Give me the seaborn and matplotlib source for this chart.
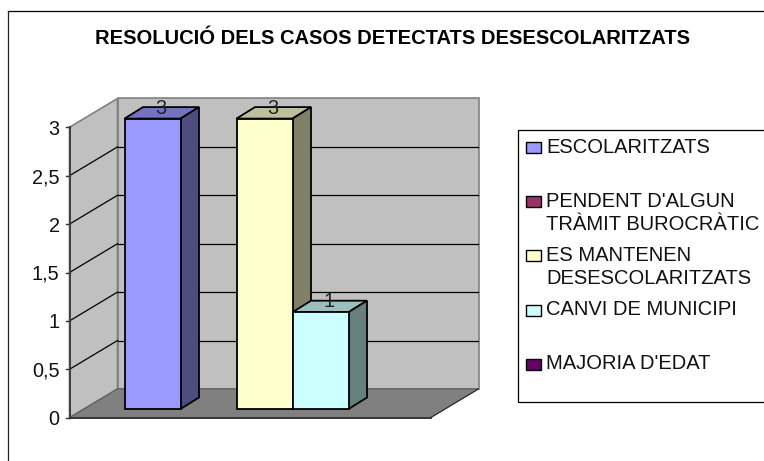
import matplotlib
matplotlib.use("Agg")
import matplotlib.pyplot as plt
from matplotlib.patches import Polygon, Rectangle
import pandas as pd
import seaborn as sns

# ---- data ----
title = "RESOLUCIÓ DELS CASOS DETECTATS DESESCOLARITZATS"
series = ["ESCOLARITZATS", "PENDENT D'ALGUN\nTRÀMIT BUROCRÀTIC",
          "ES MANTENEN\nDESESCOLARITZATS", "CANVI DE MUNICIPI", "MAJORIA D'EDAT"]
values = [3, 0, 3, 1, 0]
front_colors = ["#9999FF", "#993366", "#FFFFCC", "#CCFFFF", "#660066"]
top_colors = ["#7373BF", "#73264D", "#BFBF99", "#99BFBF", "#4D004D"]
side_colors = ["#4D4D80", "#4D1A33", "#808066", "#668080", "#330033"]
tick_values = [0, 0.5, 1, 1.5, 2, 2.5, 3]
tick_labels = ["0", "0,5", "1", "1,5", "2", "2,5", "3"]

# ---- layout in pixels ----
W, H = 764, 461
PX_PER_UNIT = 96.8
BAR_BASE_PY = 409.0
AXIS_PX, AXIS_PY = 69.5, 417.7     # front axis foot
WALL_DX, WALL_DY = 48.0, 28.8      # floor depth
FLOOR_W = 361.0
BAR_DX, BAR_DY = 18.5, 11.5        # bar depth
CENTER_PX = 264.5
CAT_W = 360.0

sns.set_theme(style="white")
plt.rcParams["font.family"] = ["Liberation Sans", "DejaVu Sans"]

fig = plt.figure(figsize=(W / 100, H / 100), dpi=100, facecolor="white")
ax = fig.add_axes([0, 0, 1, 1])

frame = pd.DataFrame({"cat": [""] * len(series), "serie": series, "valor": values})
sns.barplot(data=frame, x="cat", y="valor", hue="serie", hue_order=series,
            palette=front_colors, width=280 / CAT_W, gap=0, saturation=1,
            edgecolor="black", linewidth=1.3, legend=False, ax=ax, zorder=3)

ax.set_xlim(-CENTER_PX / CAT_W, (W - CENTER_PX) / CAT_W)
ax.set_ylim((BAR_BASE_PY - H) / PX_PER_UNIT, BAR_BASE_PY / PX_PER_UNIT)
ax.axis("off")


def P(px, py):
    return (px - CENTER_PX) / CAT_W, (BAR_BASE_PY - py) / PX_PER_UNIT


def poly(points, **kw):
    ax.add_patch(Polygon([P(*p) for p in points], closed=True, **kw))


def line(p0, p1, color="black", lw=0.8, z=1):
    (x0, y0), (x1, y1) = P(*p0), P(*p1)
    ax.plot([x0, x1], [y0, y1], color=color, lw=lw, zorder=z, solid_capstyle="projecting")


top_py = AXIS_PY - 3 * PX_PER_UNIT
back_l = AXIS_PX + WALL_DX
back_r = AXIS_PX + FLOOR_W + WALL_DX

# walls and floor
poly([(back_l, top_py - WALL_DY), (back_r, top_py - WALL_DY),
      (back_r, AXIS_PY - WALL_DY), (back_l, AXIS_PY - WALL_DY)],
     facecolor="#C0C0C0", edgecolor="#808080", lw=1.2, zorder=0)
poly([(AXIS_PX, top_py), (back_l, top_py - WALL_DY),
      (back_l, AXIS_PY - WALL_DY), (AXIS_PX, AXIS_PY)],
     facecolor="#C0C0C0", edgecolor="#808080", lw=1.2, zorder=0)
poly([(AXIS_PX, AXIS_PY), (back_l, AXIS_PY - WALL_DY),
      (back_r, AXIS_PY - WALL_DY), (AXIS_PX + FLOOR_W, AXIS_PY)],
     facecolor="#808080", edgecolor="#606060", lw=0.9, zorder=0.5)

# grid lines and ticks
for v, lab in zip(tick_values, tick_labels):
    py = AXIS_PY - v * PX_PER_UNIT
    if 0 < v < 3:
        line((AXIS_PX, py), (back_l, py - WALL_DY), lw=0.9)
        line((back_l, py - WALL_DY), (back_r - 1, py - WALL_DY), lw=0.9)
    line((AXIS_PX - 4, py), (AXIS_PX, py), color="#303030", lw=1.0, z=2)
    x, y = P(AXIS_PX - 10, py)
    ax.text(x, y, lab, ha="right", va="center_baseline", fontsize=14.3, color="#111111", zorder=6)

# axis lines
line((AXIS_PX, top_py), (AXIS_PX, AXIS_PY), color="#404040", lw=1.4, z=2)
line((AXIS_PX, AXIS_PY), (AXIS_PX + FLOOR_W, AXIS_PY), color="#303030", lw=1.3, z=2)
line((AXIS_PX + FLOOR_W, AXIS_PY), (back_r, AXIS_PY - WALL_DY), color="#303030", lw=0.8, z=2)

# 3-D faces of the bars, built from the bars seaborn drew
dx_data = BAR_DX / CAT_W
dy_data = BAR_DY / PX_PER_UNIT
bars = list(ax.patches)[:len(values)]
for i, (bar, val) in enumerate(zip(bars, values)):
    z = 3 + 0.1 * i
    if val <= 0:
        bar.set_visible(False)
        continue
    bar.set_zorder(z + 0.02)
    x0, w, h = bar.get_x(), bar.get_width(), bar.get_height()
    ax.add_patch(Polygon([(x0, h), (x0 + w, h), (x0 + w + dx_data, h + dy_data), (x0 + dx_data, h + dy_data)],
                         closed=True, facecolor=top_colors[i], edgecolor="black", lw=1.3, zorder=z + 0.01))
    ax.add_patch(Polygon([(x0 + w, 0), (x0 + w + dx_data, dy_data), (x0 + w + dx_data, h + dy_data), (x0 + w, h)],
                         closed=True, facecolor=side_colors[i], edgecolor="black", lw=1.3, zorder=z + 0.01))
    ax.text(x0 + w / 2 + dx_data / 2 - 1 / CAT_W, h + 12.5 / PX_PER_UNIT, str(val), ha="center", va="center_baseline",
            fontsize=14.3, color="#222222", zorder=6)

# title
tx, ty = P(392.5, 37)
ax.text(tx, ty, title, ha="center", va="center_baseline", fontsize=14.5, fontweight="bold", color="black", zorder=6)

# chart frame and legend frame
line((7.5, 11.5), (W + 5, 11.5), color="black", lw=0.9, z=1)
line((7.5, 11.5), (7.5, H + 5), color="#222222", lw=0.9, z=1)
lx, ly = P(517.5, 401.7)
lx2, ly2 = P(W + 10, 130)
ax.add_patch(Rectangle((lx, ly), lx2 - lx, ly2 - ly, facecolor="white", edgecolor="black", lw=0.9, zorder=1))

# legend entries
for i, (name, color) in enumerate(zip(series, front_colors)):
    cy = 147.5 + i * 54.2
    sx, sy = P(526, cy + 5.5)
    sx2, sy2 = P(541, cy - 5.5)
    ax.add_patch(Rectangle((sx, sy), sx2 - sx, sy2 - sy, facecolor=color, edgecolor="black", lw=1.0, zorder=5))
    tx, ty = P(546.5, cy - 10)
    ax.text(tx, ty, name, ha="left", va="top", fontsize=14.5, color="#111111",
            linespacing=1.3, zorder=6)

fig.savefig("out.png", dpi=100)
